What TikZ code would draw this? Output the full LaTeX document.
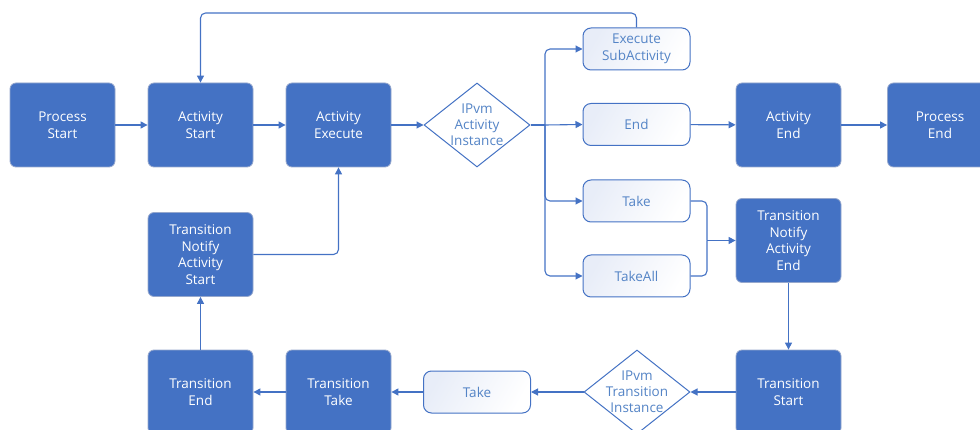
\documentclass[tikz,border=0pt]{standalone}
\usepackage{fontspec}
\setmainfont{Open Sans}
\usetikzlibrary{shapes.geometric,arrows.meta}
\definecolor{darkbox}{RGB}{68,114,196}
\definecolor{darkedge}{RGB}{150,168,205}
\definecolor{lighttext}{RGB}{84,132,198}
\definecolor{lightfill}{RGB}{232,237,248}
\tikzset{
  dbox/.style={draw=darkedge, line width=0.8pt, fill=darkbox, rounded corners=6pt,
    minimum width=105pt, minimum height=84pt, text=white, align=center,
    font=\fontsize{13.5}{16.5}\selectfont, inner sep=0pt},
  lbox/.style={draw=darkbox, line width=1pt, rounded corners=8pt,
    left color=lightfill, right color=white, shading angle=60,
    minimum width=107pt, minimum height=42pt, text=lighttext, align=center,
    font=\fontsize{13.5}{16.5}\selectfont, inner sep=0pt},
  dia/.style={draw=darkbox, line width=1pt, fill=white, diamond, inner sep=0pt,
    minimum width=106pt, minimum height=84pt},
  dlab/.style={text=lighttext, align=center, font=\fontsize{13.5}{16}\selectfont},
  conn/.style={draw=darkbox, line width=1.1pt, rounded corners=5pt,
    -{Triangle[length=7pt,width=7pt]}},
  plain/.style={draw=darkbox, line width=1.1pt, rounded corners=5pt},
}
\begin{document}
\begin{tikzpicture}[x=1pt,y=-1pt]
\useasboundingbox (0,0) rectangle (980,430);
% top row
\node[dbox] (ps) at (62.5,125) {Process\\Start};
\node[dbox] (as) at (200.5,125) {Activity\\Start};
\node[dbox] (ae) at (338.5,125) {Activity\\Execute};
\node[dia, label={[dlab]center:IPvm\\Activity\\Instance}] (ai) at (477,125) {};
\node[lbox] (sub) at (636.5,49) {Execute\\SubActivity};
\node[lbox] (end) at (636.5,124.5) {End};
\node[lbox] (take) at (636.5,201) {Take};
\node[lbox] (takeall) at (636.5,276) {TakeAll};
\node[dbox] (aend) at (788.5,125) {Activity\\End};
\node[dbox] (pe) at (940,125) {Process\\End};
\node[dbox] (tnae) at (788.5,240.5) {Transition\\Notify\\Activity\\End};
% bottom row
\node[dbox] (ts) at (788.5,392) {Transition\\Start};
\node[dia, label={[dlab]center:IPvm\\Transition\\Instance}] (ti) at (637,392) {};
\node[lbox] (take2) at (477,392) {Take};
\node[dbox] (tt) at (338.5,392) {Transition\\Take};
\node[dbox] (tend) at (200.5,392) {Transition\\End};
\node[dbox] (tnas) at (200.5,254.5) {Transition\\Notify\\Activity\\Start};
% bus coordinates
\coordinate (bus) at (545,125);
\coordinate (join) at (707,240.5);
\coordinate (loop) at (636.5,13);
% connectors
\draw[conn] (ps) -- (as);
\draw[conn] (as) -- (ae);
\draw[conn] (ae) -- (ai);
\draw[plain] (ai.east) -- (bus);
\draw[conn] (bus) |- (sub.west);
\draw[conn] (bus) -- (end.west);
\draw[conn] (bus) |- (take.west);
\draw[conn] (bus) |- (takeall.west);
\draw[conn] (sub.north) -- (loop) -| (as.north);
\draw[conn] (end) -- (aend);
\draw[conn] (aend) -- (pe);
\draw[plain] (take.east) -| (join);
\draw[plain] (takeall.east) -| (join);
\draw[conn] (join) -- (tnae.west);
\draw[conn] (tnae) -- (ts);
\draw[conn] (ts) -- (ti);
\draw[conn] (ti) -- (take2);
\draw[conn] (take2) -- (tt);
\draw[conn] (tt) -- (tend);
\draw[conn] (tend) -- (tnas);
\draw[conn] (tnas.east) -| (ae.south);
\end{tikzpicture}
\end{document}
